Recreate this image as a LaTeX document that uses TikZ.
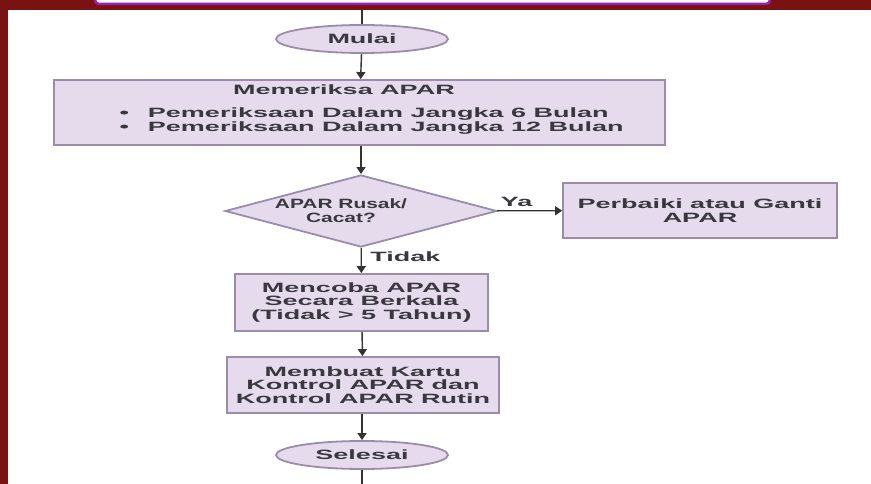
\documentclass[tikz,border=0pt]{standalone}
\usepackage{fontspec}
\newfontfamily\flowfont{Liberation Sans}[FakeStretch=2.0]
\newfontfamily\askfont{Liberation Sans Bold}[FakeStretch=1.55]
\usetikzlibrary{shapes.geometric,arrows.meta}
\definecolor{boxfill}{HTML}{E5DBED}
\definecolor{boxline}{HTML}{9C8CAC}
\definecolor{txtgray}{HTML}{3A383E}
\definecolor{linegray}{HTML}{333333}
\definecolor{frame}{HTML}{7A1212}
\definecolor{barline}{HTML}{9A1FB8}
\newcommand{\askpad}{\rule{40pt}{0pt}}
\tikzset{
  flowtext/.style={text=txtgray, font=\flowfont\bfseries\fontsize{13.5}{13.5}\selectfont, align=center},
  process/.style={flowtext, draw=boxline, fill=boxfill, line width=1.8pt, inner sep=0pt},
  terminal/.style={process, ellipse, minimum width=172pt, minimum height=28pt},
  decision/.style={process, diamond, aspect=3.8, minimum width=272pt, minimum height=72pt,
    font=\askfont\fontsize{13.5}{14}\selectfont},
  flow/.style={draw=linegray, line width=1.4pt, -{Triangle[length=7pt,width=9pt]}},
  plain/.style={draw=linegray, line width=1.4pt}
}
\begin{document}
\begin{tikzpicture}[x=1pt, y=-1pt]
  \useasboundingbox (0,0) rectangle (871,484);
  \fill[white] (0,0) rectangle (871,484);
  % frame of the slide
  \fill[frame] (0,0) rectangle (871,10);
  \fill[frame] (0,0) rectangle (8,484);
  \filldraw[draw=barline, fill=white, line width=2.5pt, rounded corners=4pt] (95,-20) rectangle (770,4);

  \node[terminal] (start) at (362,39) {Mulai};
  \node[process, minimum width=611pt, minimum height=65pt] (check) at (359.5,112.5) {};
  \node[flowtext] (checktitle) at (344,90) {Memeriksa APAR};
  \node[flowtext, anchor=west, align=left] (checklist) at (116,121)
    {\textbullet\hspace{19pt}Pemeriksaan Dalam Jangka 6 Bulan\\[0.5pt]
     \textbullet\hspace{19pt}Pemeriksaan Dalam Jangka 12 Bulan};
  \node[decision] (broken) at (361,211) {APAR Rusak/\askpad\\Cacat?\askpad};
  \node[process, minimum width=274pt, minimum height=55pt] (fix) at (700,210.5)
    {Perbaiki atau Ganti\\APAR};
  \node[process, minimum width=253pt, minimum height=57pt] (test) at (361.5,302.5)
    {Mencoba APAR\\Secara Berkala\\(Tidak > 5 Tahun)};
  \node[process, minimum width=272pt, minimum height=56pt] (card) at (363,385)
    {Membuat Kartu\\Kontrol APAR dan\\Kontrol APAR Rutin};
  \node[terminal] (finish) at (362,455) {Selesai};

  \coordinate (topend) at (362,10);
  \coordinate (botend) at (362,484);

  \draw[plain] (topend) -- (start);
  \draw[flow] (start) -- (check);
  \draw[flow] (check.south -| broken.north) -- (broken);
  \draw[flow] (broken) -- node[flowtext, above, pos=0.3] (yes) {Ya} (fix);
  \draw[flow] (broken) -- node[flowtext, right, xshift=5pt, pos=0.35] (no) {Tidak} (test);
  \draw[flow] (test) -- (card);
  \draw[flow] (card.south -| finish.north) -- (finish);
  \draw[plain] (finish) -- (botend);
\end{tikzpicture}
\end{document}
